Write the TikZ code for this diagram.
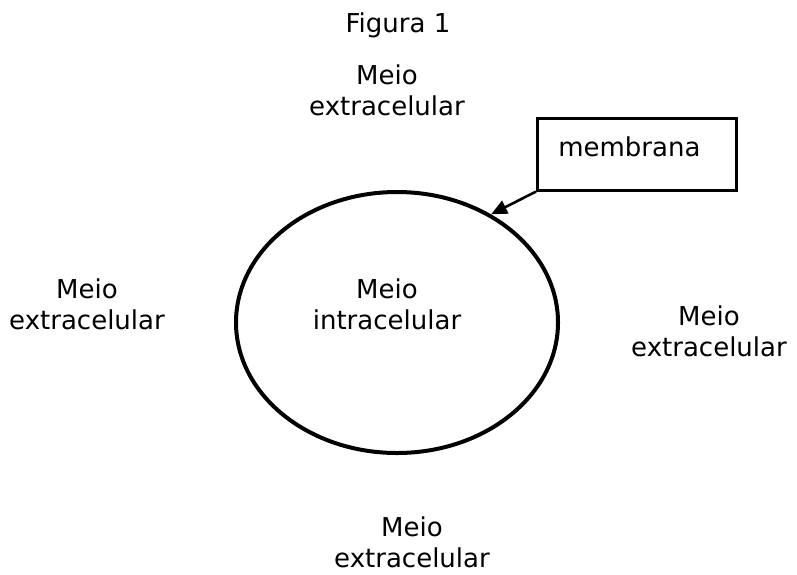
\documentclass[tikz,border=0pt]{standalone}
\usepackage{fontspec}
\setmainfont{DejaVu Sans}
\usetikzlibrary{shapes.geometric,arrows.meta}

\begin{document}
\begin{tikzpicture}[x=1pt, y=-1pt, font=\fontsize{26}{31}\selectfont]
		% ==================================================
		% 1. Parâmetros
		% ==================================================
		% célula (elipse)
		\def\celX{397}    % centro x
		\def\celY{322.5}  % centro y
		\def\celW{322}    % largura
		\def\celH{261}    % altura

		% aparência
		\def\celLine{4}     % espessura da membrana
		\def\boxLine{2.6}   % espessura da caixa e da seta
		% ==================================================

		\tikzset{
			meio/.style={align=center, inner sep=0pt},
		}

		% área da figura
		\useasboundingbox (0,0) rectangle (797,574);

		% 2. Título
		\node[anchor=base, inner sep=0pt] (titulo) at (398,32) {Figura 1};

		% 3. Célula
		\node[draw, ellipse, line width=\celLine, minimum width=\celW,
			minimum height=\celH, inner sep=0pt] (cel) at (\celX,\celY) {};
		\node[meio] (intra) at (387,304.5) {Meio\\intracelular};

		% 4. Meio extracelular (quatro lados)
		\node[meio] (extN) at (387,90)    {Meio\\extracelular};
		\node[meio] (extW) at (87,304.5)  {Meio\\extracelular};
		\node[meio] (extE) at (709,331)   {Meio\\extracelular};
		\node[meio] (extS) at (412,542)   {Meio\\extracelular};

		% 5. Legenda da membrana
		\node[draw, line width=\boxLine, anchor=north west, minimum width=199,
			minimum height=72, text width=157, align=left, inner xsep=21,
			inner ysep=0pt, text height=19, text depth=15] (memb) at (536,117) {membrana};

		% seta até a membrana
		\draw[line width=\boxLine, -{Triangle[length=16pt, width=14pt]}]
			(memb.south west) -- (cel.49);

	\end{tikzpicture}
\end{document}
